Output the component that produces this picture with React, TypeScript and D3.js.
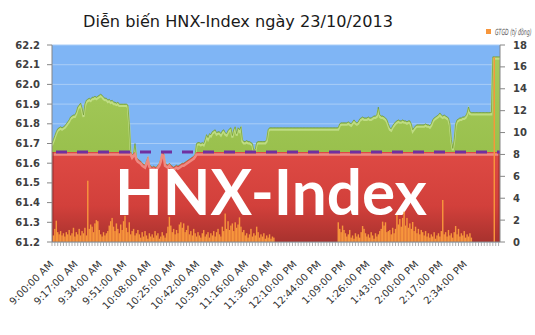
import React from "react";
import * as d3 from "d3";

const chartTitle = "Diễn biến HNX-Index ngày 23/10/2013";
const legendLabel = "GTGD (tỷ đồng)";
const watermark = "HNX-Index";

const tickLabels = [
  "9:00:00 AM", "9:17:00 AM", "9:34:00 AM", "9:51:00 AM", "10:08:00 AM", "10:25:00 AM",
  "10:42:00 AM", "10:59:00 AM", "11:16:00 AM", "11:36:00 AM", "12:10:00 PM", "12:44:00 PM",
  "1:09:00 PM", "1:26:00 PM", "1:43:00 PM", "2:00:00 PM", "2:17:00 PM", "2:34:00 PM",
];
const labelEvery = 17;
const refValue = 61.657;
const leftTicks = [61.2, 61.3, 61.4, 61.5, 61.6, 61.7, 61.8, 61.9, 62.0, 62.1, 62.2];
const rightTicks = [0, 2, 4, 6, 8, 10, 12, 14, 16, 18];

// HNX-Index, one value per minute category
const indexValues = [
  61.70, 61.72, 61.74, 61.76, 61.775, 61.78, 61.785, 61.78, 61.785, 61.79,
  61.80, 61.81, 61.82, 61.835, 61.84, 61.845, 61.845, 61.86, 61.885, 61.895,
  61.905, 61.88, 61.845, 61.90, 61.92, 61.925, 61.93, 61.925, 61.935, 61.935,
  61.94, 61.935, 61.94, 61.945, 61.95, 61.945, 61.935, 61.93, 61.93, 61.92,
  61.925, 61.915, 61.92, 61.91, 61.91, 61.905, 61.91, 61.90, 61.90, 61.90,
  61.90, 61.90, 61.90, 61.895, 61.80, 61.66, 61.64, 61.65, 61.70, 61.63,
  61.62, 61.615, 61.61, 61.60, 61.595, 61.59, 61.61, 61.63, 61.595, 61.585,
  61.58, 61.585, 61.58, 61.58, 61.59, 61.60, 61.62, 61.655, 61.65, 61.60,
  61.595, 61.59, 61.60, 61.59, 61.585, 61.58, 61.585, 61.59, 61.585, 61.59,
  61.595, 61.60, 61.60, 61.605, 61.61, 61.615, 61.62, 61.625, 61.63, 61.635,
  61.645, 61.70, 61.705, 61.705, 61.70, 61.705, 61.70, 61.72, 61.745, 61.73,
  61.75, 61.745, 61.76, 61.765, 61.77, 61.755, 61.76, 61.76, 61.75, 61.765,
  61.77, 61.755, 61.75, 61.765, 61.775, 61.78, 61.74, 61.77, 61.785, 61.75,
  61.78, 61.77, 61.785, 61.72, 61.71, 61.71, 61.715, 61.71, 61.71, 61.705,
  61.70, 61.665, 61.67, 61.705, 61.71, 61.71, 61.71, 61.71, 61.71, 61.71,
  61.72, 61.77, 61.78, 61.78, 61.78, 61.78, 61.78, 61.78, 61.78, 61.78,
  61.78, 61.78, 61.78, 61.78, 61.78, 61.78, 61.78, 61.78, 61.78, 61.78,
  61.78, 61.78, 61.78, 61.78, 61.78, 61.78, 61.78, 61.78, 61.78, 61.78,
  61.78, 61.78, 61.78, 61.78, 61.78, 61.78, 61.78, 61.78, 61.78, 61.78,
  61.78, 61.78, 61.78, 61.78, 61.78, 61.78, 61.78, 61.78, 61.78, 61.78,
  61.78, 61.80, 61.805, 61.805, 61.805, 61.805, 61.805, 61.81, 61.805, 61.80,
  61.81, 61.82, 61.81, 61.805, 61.81, 61.825, 61.83, 61.835, 61.83, 61.83,
  61.83, 61.835, 61.83, 61.83, 61.835, 61.84, 61.84, 61.845, 61.885, 61.845,
  61.84, 61.84, 61.835, 61.83, 61.82, 61.80, 61.78, 61.775, 61.79, 61.80,
  61.81, 61.815, 61.82, 61.815, 61.815, 61.82, 61.815, 61.815, 61.81, 61.815,
  61.815, 61.80, 61.77, 61.78, 61.79, 61.795, 61.795, 61.795, 61.795, 61.795,
  61.795, 61.80, 61.795, 61.795, 61.79, 61.80, 61.82, 61.83, 61.835, 61.84,
  61.845, 61.855, 61.845, 61.84, 61.845, 61.84, 61.835, 61.83, 61.80, 61.72,
  61.675, 61.72, 61.80, 61.82, 61.825, 61.83, 61.83, 61.835, 61.835, 61.84,
  61.855, 61.885, 61.86, 61.857, 61.857, 61.857, 61.857, 61.857, 61.857, 61.857,
  61.857, 61.857, 61.857, 61.857, 61.857, 61.857, 61.857, 61.857, 62.14, 62.14,
  62.14, 62.14, 62.14, 62.14,
];

// GTGD (tỷ đồng), one value per minute category
const volumeValues = [
  0, 0.6, 1.2, 1.95, 0.9, 0.7, 1.0, 0.6, 0.8, 0.5,
  0.9, 0.7, 1.1, 0.6, 0.8, 1.3, 0.5, 0.9, 0.7, 1.2,
  0.6, 1.0, 0.8, 1.3, 0.6, 5.6, 1.2, 1.6, 1.4, 0.9,
  1.7, 2.0, 1.9, 1.1, 0.7, 0.5, 0.9, 0.6, 0.8, 1.0,
  1.5, 1.9, 2.2, 1.4, 1.0, 1.7, 1.2, 0.8, 1.6, 1.1,
  1.9, 2.4, 1.3, 0.9, 1.8, 0.7, 1.0, 1.2, 0.6, 0.8,
  1.1, 0.7, 0.4, 0.9, 0.5, 1.0, 0.6, 0.3, 0.8, 0.5,
  0.7, 0.4, 1.0, 0.6, 0.8, 0.3, 0.5, 0.9, 0.6, 0.4,
  0.8, 1.4, 2.3, 1.5, 0.9, 1.2, 0.7, 1.1, 0.8, 1.6,
  1.8, 1.3, 1.7, 0.9, 1.1, 1.5, 0.7, 1.0, 0.6, 1.2,
  0.8, 0.5, 0.9, 0.6, 0.4, 0.8, 1.1, 0.5, 0.7, 0.9,
  0.4, 0.8, 0.6, 1.0, 0.5, 0.9, 1.2, 0.7, 0.5, 1.4,
  1.0, 2.6, 1.2, 1.9, 1.1, 1.5, 1.7, 1.0, 1.8, 1.3,
  1.6, 2.25, 1.4, 0.9, 1.1, 0.6, 0.8, 0.4, 0.7, 1.2,
  0.5, 0.8, 0.6, 1.4, 0.9, 0.4, 0.7, 0.5, 0.8, 0.3,
  0.6, 0.4, 0.7, 0.3, 0.5, 0.4, 0, 0, 0, 0,
  0, 0, 0, 0, 0, 0, 0, 0, 0, 0,
  0, 0, 0, 0, 0, 0, 0, 0, 0, 0,
  0, 0, 0, 0, 0, 0, 0, 0, 0, 0,
  0, 0, 0, 0, 0, 0, 0, 0, 0, 0,
  1.8, 1.2, 0.9, 1.5, 1.1, 0.8, 0.5, 0.7, 1.1, 0.4,
  0.6, 0.3, 0.8, 0.5, 0.7, 0.4, 0.9, 1.46, 1.2, 0.8,
  0.5, 0.7, 0.4, 0.9, 0.6, 0.3, 0.8, 0.5, 0.7, 1.0,
  1.2, 1.86, 1.5, 1.8, 0.9, 1.0, 1.1, 0.7, 1.3, 0.8,
  1.2, 2.47, 1.6, 2.1, 1.4, 2.2, 2.77, 1.5, 2.2, 1.3,
  1.7, 1.2, 1.83, 1.0, 1.4, 0.8, 1.2, 0.7, 1.1, 0.9,
  0.6, 1.0, 0.5, 0.8, 0.4, 0.7, 0.5, 0.9, 0.3, 0.6,
  0.8, 0.5, 1.0, 3.84, 0.7, 0.9, 0.5, 1.1, 0.6, 0.8,
  0.4, 0.9, 1.46, 0.7, 1.2, 0.5, 0.8, 0.6, 1.0, 0.4,
  0.7, 0.5, 0.8, 0.4, 0, 0, 0, 0, 0, 0,
  0, 0, 0, 0, 0, 0, 0, 0, 0, 16.9,
  0, 0, 0, 0,
];

export default function App() {
  const W = 535, H = 335;
  const L = 52, R = 500, T = 45, B = 242;
  const N = indexValues.length;
  const cats = d3.range(N);
  const x = d3.scaleLinear().domain([0, N - 1]).range([L, R]);
  const yL = d3.scaleLinear().domain([61.2, 62.2]).range([B, T]);
  const yR = d3.scaleLinear().domain([0, 18]).range([B, T]);
  const step = x(1) - x(0);

  const redVals = indexValues.map((v) => Math.min(v, refValue));
  const areaGen = d3.area<number>().x((_, i) => x(i)).y0(B).y1((d) => yL(d));
  const lineGen = d3.line<number>().x((_, i) => x(i)).y((d) => yL(d));
  const lineOffset = (off: number) =>
    d3.line<number>().x((_, i) => x(i)).y((d) => Math.min(B, yL(d) + off));

  const font = "'DejaVu Sans', Verdana, sans-serif";
  const axisColor = "#868686";
  const textColor = "#404040";

  return (
    <div style={{ position: "absolute", left: 0, top: 0, width: W, height: H, background: "#fff" }}>
      <svg width={W} height={H} style={{ display: "block" }}>
        <defs>
          <linearGradient id="redGrad" x1="0" y1="0" x2="0" y2="1">
            <stop offset="0" stopColor="#DE4A44" />
            <stop offset="0.6" stopColor="#D2403B" />
            <stop offset="1" stopColor="#A8322E" />
          </linearGradient>
          <linearGradient id="greenGrad" x1="0" y1="0" x2="0" y2="1">
            <stop offset="0" stopColor="#A6CB5C" />
            <stop offset="1" stopColor="#8DB63F" />
          </linearGradient>
          <clipPath id="plotClip">
            <rect x={L} y={T} width={R - L} height={B - T} />
          </clipPath>
        </defs>

        {/* plot background */}
        <rect x={L} y={T} width={R - L} height={B - T} fill="#7FB5F5" />
        {leftTicks.map((t) => (
          <line key={"g" + t} x1={L} x2={R} y1={yL(t)} y2={yL(t)} stroke="#A9CDF7" strokeWidth={1} />
        ))}

        <g clipPath="url(#plotClip)">
          {/* index area (green) */}
          <path d={areaGen(indexValues) || ""} fill="url(#greenGrad)" />
          <path d={lineOffset(2)(indexValues) || ""} fill="none" stroke="#C4E08C" strokeWidth={2} opacity={0.85} />
          <path d={lineGen(indexValues) || ""} fill="none" stroke="#6E9A30" strokeWidth={0.7} />
          {/* below-reference area (red) */}
          <path d={areaGen(redVals) || ""} fill="url(#redGrad)" />
          <path d={lineOffset(2.5)(redVals) || ""} fill="none" stroke="#F0918A" strokeWidth={2.5} opacity={0.9} />
          <line x1={L + 1} x2={L + 1} y1={yL(refValue)} y2={B} stroke="#A83030" strokeWidth={2} opacity={0.6} />
          <line x1={R - 1} x2={R - 1} y1={yL(refValue)} y2={B} stroke="#A83030" strokeWidth={2} opacity={0.6} />
        </g>

        {/* watermark text */}
        <text x={115} y={215} fontFamily="Lato, 'Open Sans', sans-serif" fontWeight={700} fontSize={63}
          fill="#FFFFFF" textLength={312} lengthAdjust="spacingAndGlyphs">{watermark}</text>

        {/* volume bars */}
        <g clipPath="url(#plotClip)">
          {cats.filter((i) => volumeValues[i] > 0).map((i) => (
            <rect key={"b" + i} x={x(i) - step / 2} width={step} y={yR(volumeValues[i])}
              height={B - yR(volumeValues[i])} fill="#F7963C" />
          ))}
        </g>

        {/* reference dashed line */}
        <line x1={L} x2={R} y1={yL(refValue)} y2={yL(refValue)} stroke="#7030A0" strokeWidth={3}
          strokeDasharray="11 10" strokeDashoffset={-4} />

        {/* axes */}
        <line x1={L} x2={L} y1={T} y2={B} stroke={axisColor} strokeWidth={1} />
        <line x1={R} x2={R} y1={T} y2={B} stroke={axisColor} strokeWidth={1} />
        <line x1={L} x2={R} y1={B} y2={B} stroke={axisColor} strokeWidth={1} />
        {leftTicks.map((t) => (
          <g key={"l" + t}>
            <line x1={L - 5} x2={L} y1={yL(t)} y2={yL(t)} stroke={axisColor} />
            <text x={40} y={yL(t) + 3.5} textAnchor="end" fontFamily={font} fontWeight={700}
              fontSize={10} fill={textColor}>{t.toFixed(1)}</text>
          </g>
        ))}
        {rightTicks.map((t) => (
          <g key={"r" + t}>
            <line x1={R} x2={R + 5} y1={yR(t)} y2={yR(t)} stroke={axisColor} />
            <text x={513} y={yR(t) + 3.5} textAnchor="start" fontFamily={font} fontWeight={700}
              fontSize={10} fill={textColor}>{t}</text>
          </g>
        ))}
        {cats.filter((i) => i % 2 === 0).map((i) => (
          <line key={"t" + i} x1={x(i)} x2={x(i)} y1={B} y2={B + 4} stroke="#9A9A9A" strokeWidth={0.8} />
        ))}
        {tickLabels.map((lab, k) => {
          const cx = x(k * labelEvery);
          return (
            <text key={"x" + k} transform={`translate(${cx + 2},${265}) rotate(-45)`} textAnchor="end"
              fontFamily={font} fontSize={10} fill="#333">{lab}</text>
          );
        })}

        {/* title */}
        <text x={83} y={27} fontFamily={font} fontSize={16.5} fill="#1a1a1a" textLength={310}
          lengthAdjust="spacingAndGlyphs">{chartTitle}</text>

        {/* legend */}
        <rect x={486} y={29} width={5} height={5} fill="#F7963C" />
        <text transform="translate(495,35) scale(0.55,1)" fontFamily={font} fontStyle="italic"
          fontSize={8.5} fill="#595959">{legendLabel}</text>
      </svg>
    </div>
  );
}
